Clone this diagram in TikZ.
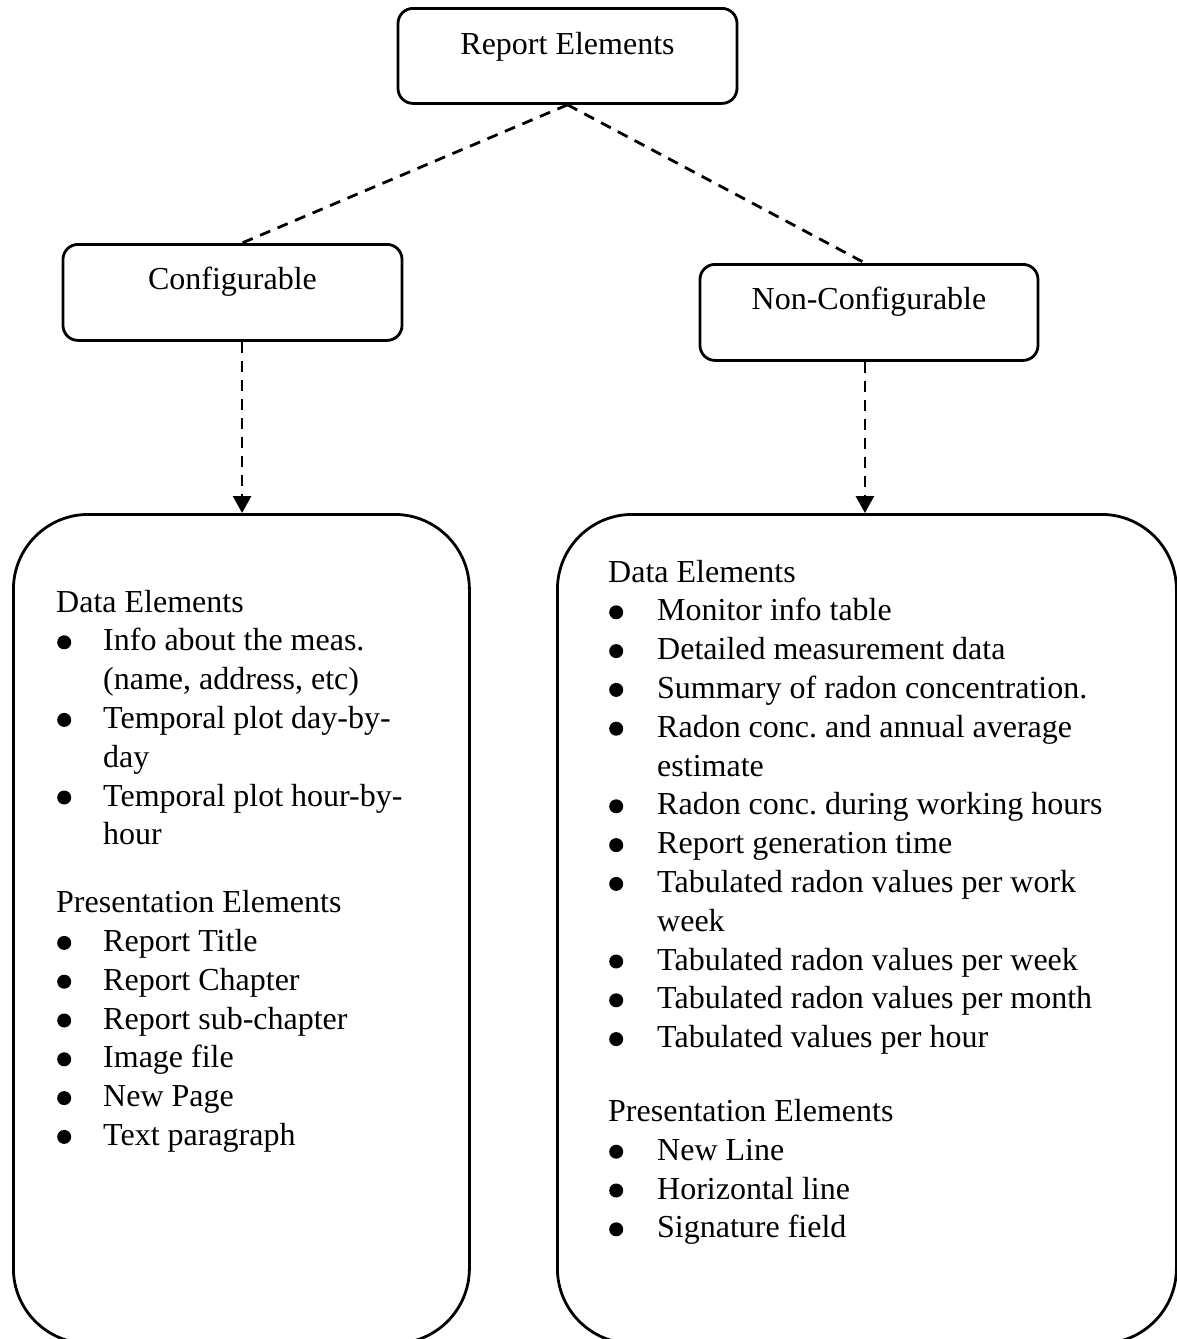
\documentclass[tikz,border=0pt]{standalone}
\usepackage{fontspec}
\setmainfont{Liberation Serif}
\usetikzlibrary{arrows.meta,calc}
\frenchspacing
\newcommand{\bul}{\tikz[baseline=0pt]\fill (6.5pt,8.5pt) circle[radius=7pt];}
\newcommand{\bl}[1]{\makebox[#1][l]{\hspace{1pt}\bul}}
\begin{document}
\begin{tikzpicture}[x=1pt,y=-1pt,
  box/.style={draw,line width=2.8pt,rounded corners=15pt,inner sep=0pt,minimum width=339pt,font=\fontsize{32}{38.8}\selectfont},
  panel/.style={draw,line width=2.8pt,rounded corners=75pt,inner sep=0pt,anchor=north west},
  listtext/.style={inner sep=0pt,anchor=base west,font=\fontsize{32}{38.8}\selectfont},
  link/.style={line width=2.8pt,dash pattern=on 11pt off 8pt},
  arr/.style={link,-{Triangle[width=18pt,length=17pt]}}]
\useasboundingbox (0,0) rectangle (1177,1339);

\node[box,anchor=north,text height=46pt,text depth=49pt] (top) at (567.5,7) {Report Elements};
\node[box,anchor=north,text height=45pt,text depth=51pt] (conf) at (232.5,243) {Configurable};
\node[box,anchor=north,text height=45pt,text depth=51pt,minimum width=338pt] (nconf) at (869,263) {Non-Configurable};

\node[panel,minimum width=456pt,minimum height=829pt] (lp) at (12,513) {};
\node[panel,minimum width=619pt,minimum height=829pt] (rp) at (556,513) {};

\node[listtext] (ll) at (56,612) {\begin{tabular}[t]{@{}l@{}l@{}}
\multicolumn{2}{@{}l@{}}{Data Elements}\\
\bl{47pt} & Info about the meas.\\
 & (name, address, etc)\\
\bl{47pt} & Temporal plot day-by-\\
 & day\\
\bl{47pt} & Temporal plot hour-by-\\
 & hour\\[29pt]
\multicolumn{2}{@{}l@{}}{Presentation Elements}\\
\bl{47pt} & Report Title\\
\bl{47pt} & Report Chapter\\
\bl{47pt} & Report sub-chapter\\
\bl{47pt} & Image file\\
\bl{47pt} & New Page\\
\bl{47pt} & Text paragraph
\end{tabular}};

\node[listtext] (rl) at (608,582) {\begin{tabular}[t]{@{}l@{}l@{}}
\multicolumn{2}{@{}l@{}}{Data Elements}\\
\bl{49pt} & Monitor info table\\
\bl{49pt} & Detailed measurement data\\
\bl{49pt} & Summary of radon concentration.\\
\bl{49pt} & Radon conc. and annual average\\
 & estimate\\
\bl{49pt} & Radon conc. during working hours\\
\bl{49pt} & Report generation time\\
\bl{49pt} & Tabulated radon values per work\\
 & week\\
\bl{49pt} & Tabulated radon values per week\\
\bl{49pt} & Tabulated radon values per month\\
\bl{49pt} & Tabulated values per hour\\[35pt]
\multicolumn{2}{@{}l@{}}{Presentation Elements}\\
\bl{49pt} & New Line\\
\bl{49pt} & Horizontal line\\
\bl{49pt} & Signature field
\end{tabular}};

\draw[link] (top.south) -- ($(conf.north west)!0.528!(conf.north east)$);
\draw[link] (top.south) -- ($(nconf.north west)!0.488!(nconf.north east)$);
\draw[arr] ($(conf.south west)!0.528!(conf.south east)$) coordinate (ca) -- (ca |- lp.north);
\draw[arr] ($(nconf.south west)!0.488!(nconf.south east)$) coordinate (na) -- (na |- rp.north);
\end{tikzpicture}
\end{document}
